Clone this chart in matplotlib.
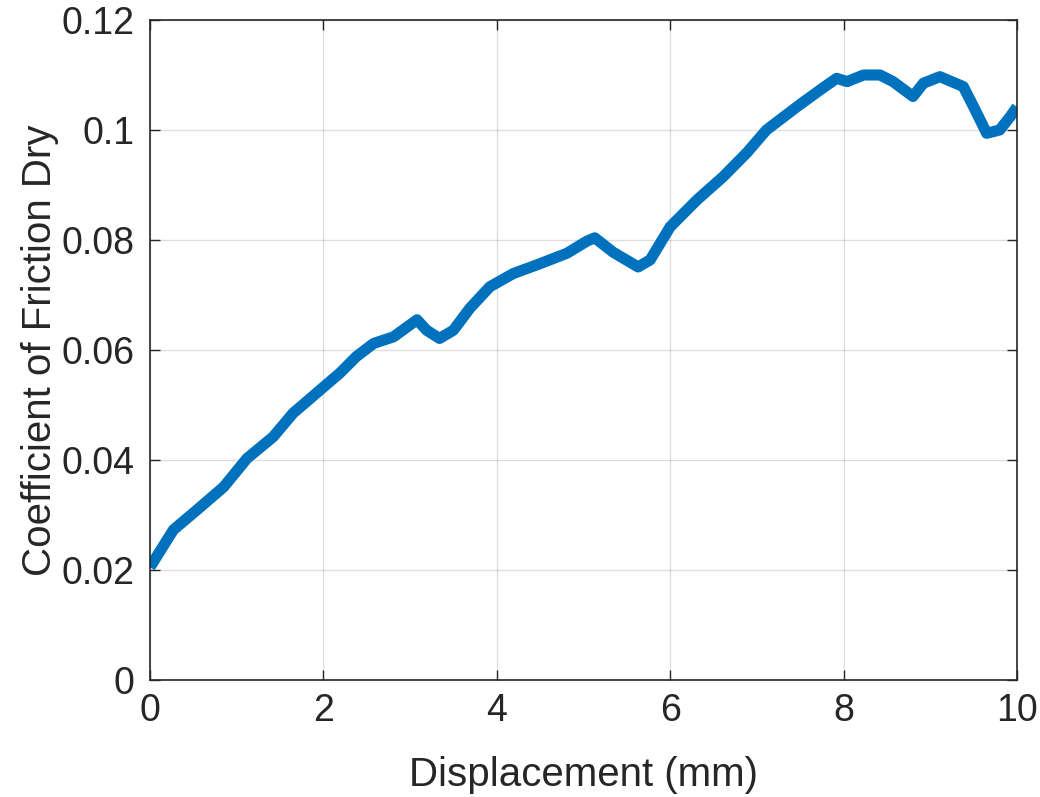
import numpy as np
import matplotlib.pyplot as plt

# displacement (mm) and friction coefficient
disp = [0.0, 0.27, 0.54, 0.85, 1.12, 1.42, 1.65, 1.96, 2.19, 2.38, 2.58, 2.81,
        3.08, 3.19, 3.34, 3.50, 3.69, 3.92, 4.19, 4.50, 4.81, 5.04, 5.13, 5.34,
        5.63, 5.77, 6.0, 6.31, 6.61, 6.88, 7.11, 7.46, 7.73, 7.92, 8.04, 8.23,
        8.42, 8.57, 8.80, 8.92, 9.11, 9.38, 9.50, 9.65, 9.80, 9.92, 10.0]
cof = [0.0205, 0.0273, 0.0309, 0.0351, 0.0403, 0.0442, 0.0485, 0.0527, 0.0558,
       0.0588, 0.0612, 0.0624, 0.0655, 0.0636, 0.0621, 0.0636, 0.0676, 0.0715,
       0.0739, 0.0757, 0.0776, 0.0798, 0.0804, 0.0778, 0.0751, 0.0764, 0.0824,
       0.0873, 0.0915, 0.0958, 0.1000, 0.1042, 0.1073, 0.1094, 0.1088, 0.1100,
       0.1100, 0.1088, 0.1061, 0.1085, 0.1097, 0.1079, 0.1042, 0.0994, 0.1000,
       0.1024, 0.1042]

xticks = [0, 2, 4, 6, 8, 10]
yticks = [0, 0.02, 0.04, 0.06, 0.08, 0.1, 0.12]
yticklabels = ['0', '0.02', '0.04', '0.06', '0.08', '0.1', '0.12']

plt.rcParams['font.family'] = ['Liberation Sans', 'DejaVu Sans']
txt = '#262626'

fig = plt.figure(figsize=(10.4, 7.97), dpi=100)
ax = fig.add_axes([0.1442, 0.1468, 0.8337, 0.8281])

ax.plot(disp, cof, color='#0072BD', linewidth=8, solid_joinstyle='round',
        solid_capstyle='butt')

ax.set_xlim(0, 10)
ax.set_ylim(0, 0.12)
ax.set_xticks(xticks)
ax.set_yticks(yticks)
ax.set_yticklabels(yticklabels)
ax.grid(True, color='#262626', alpha=0.15, linewidth=1)
ax.tick_params(direction='in', length=7, width=1, colors=txt, labelsize=27,
               top=True, right=True)
ax.tick_params(axis='y', pad=11)
ax.tick_params(axis='x', pad=9)
for s in ax.spines.values():
    s.set_color(txt)
    s.set_linewidth(1.2)

ax.set_xlabel('Displacement (mm)', fontsize=29, color=txt, labelpad=20)
ax.set_ylabel('Coefficient of Friction Dry', fontsize=29, color=txt, labelpad=2)

fig.savefig('out.png', dpi=100)
